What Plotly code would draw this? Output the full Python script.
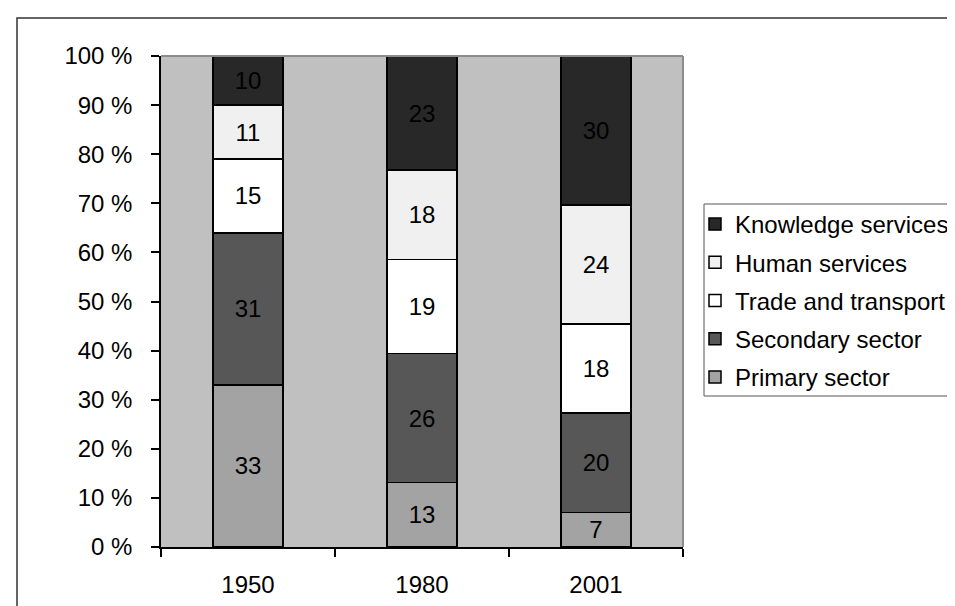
import plotly.graph_objects as go

years = ["1950", "1980", "2001"]
series_names = ["Primary sector", "Secondary sector", "Trade and transport",
                "Human services", "Knowledge services"]
primary = [33, 13, 7]
secondary = [31, 26, 20]
trade = [15, 19, 18]
human = [11, 18, 24]
knowledge = [10, 23, 30]
colors = ["#a3a3a3", "#575757", "#ffffff", "#f0f0f0", "#282828"]
y_tickvals = [0, 10, 20, 30, 40, 50, 60, 70, 80, 90, 100]
y_ticktext = ["0 %", "10 %", "20 %", "30 %", "40 %", "50 %", "60 %", "70 %",
              "80 %", "90 %", "100 %"]

W, H = 955, 606
ML, MR, MT, MB = 153, 280, 48, 67
PW, PH = W - ML - MR, H - MT - MB
FONT = "Liberation Sans, Arial, sans-serif"
FS = 24

fig = go.Figure()
all_vals = [primary, secondary, trade, human, knowledge]
n = len(series_names)
for i, (name, vals, col) in enumerate(zip(series_names, all_vals, colors)):
    fig.add_trace(go.Bar(
        x=years, y=vals, name=name, legendgroup=f"g{i}", legendrank=n - i,
        marker=dict(color=col, line=dict(color="#000000", width=1.5)),
        text=[str(v) for v in vals], textposition="inside",
        insidetextanchor="middle", constraintext="none", textangle=0,
        textfont=dict(color="#000000", size=FS, family=FONT),
        hoverinfo="x+y+name",
    ))

def px_x(p):
    return (p - ML) / PW

def px_y(p):
    return (H - MB - p) / PH

shapes = [
    # plot area top and right border
    dict(type="line", xref="paper", yref="paper", x0=0, x1=1, y0=1, y1=1,
         line=dict(color="#8c8c8c", width=2)),
    dict(type="line", xref="paper", yref="paper", x0=1, x1=1, y0=0, y1=1,
         line=dict(color="#8c8c8c", width=2)),
    # outer chart border
    dict(type="rect", xref="paper", yref="paper",
         x0=px_x(9), x1=px_x(975), y0=px_y(10), y1=px_y(625),
         line=dict(color="#333333", width=1.5), layer="below"),
    # legend box
    dict(type="rect", xref="paper", yref="paper",
         x0=px_x(696), x1=px_x(975), y0=px_y(196), y1=px_y(388),
         line=dict(color="#555555", width=1), layer="below"),
]

fig.update_layout(
    width=W, height=H,
    margin=dict(l=ML, r=MR, t=MT, b=MB, pad=0),
    barmode="stack", barnorm="percent", bargap=0.595,
    plot_bgcolor="#c0c0c0", paper_bgcolor="#ffffff",
    font=dict(family=FONT, size=FS, color="#000000"),
    showlegend=True,
    legend=dict(
        traceorder="grouped", xref="container", yref="container",
        x=687 / W, y=1 - 194 / H, xanchor="left", yanchor="top",
        bgcolor="rgba(0,0,0,0)", borderwidth=0,
        font=dict(family=FONT, size=24, color="#000000"),
        itemwidth=30, tracegroupgap=4,
    ),
    shapes=shapes,
    xaxis=dict(
        type="category", showgrid=False, showline=True, linecolor="#000000",
        linewidth=1.5, ticks="outside", tickson="boundaries", ticklen=8,
        tickcolor="#000000", tickwidth=1.5, ticklabelstandoff=15,
        tickfont=dict(size=FS, family=FONT), zeroline=False,
    ),
    yaxis=dict(
        range=[0, 100], tickvals=y_tickvals, ticktext=y_ticktext,
        showgrid=False, showline=True, linecolor="#000000", linewidth=1.5,
        ticks="outside", ticklen=8, tickcolor="#000000", tickwidth=1.5,
        ticklabelstandoff=14, tickfont=dict(size=FS, family=FONT),
        zeroline=False,
    ),
)

fig.write_html("out.html")
